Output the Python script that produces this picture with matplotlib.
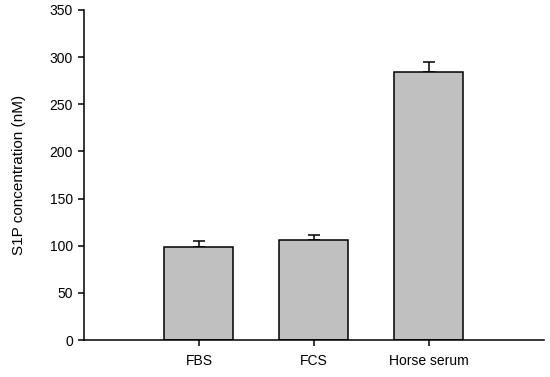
import numpy as np
import matplotlib.pyplot as plt

plt.rcParams['font.family'] = ['Liberation Sans', 'DejaVu Sans']

groups = ['FBS', 'FCS', 'Horse serum']
s1p_nm = [99, 106, 284]
s1p_err = [6, 5, 11]


def draw_bars(ax, labels, values, errors):
    x = np.arange(len(labels))
    ax.bar(x, values, width=0.6, color='#c0c0c0', edgecolor='black', linewidth=1.1, zorder=2)
    # only the upper half of the error bar is shown
    ax.errorbar(x, values, yerr=[np.zeros(len(errors)), errors], fmt='none',
                ecolor='black', elinewidth=1.1, capsize=4.5, capthick=1.1, zorder=1)
    ax.set_xticks(x)
    ax.set_xticklabels(labels)


fig = plt.figure(figsize=(5.5, 3.77), dpi=100)
ax = fig.add_axes([0.1527, 0.098, 0.836, 0.8755])

draw_bars(ax, groups, s1p_nm, s1p_err)

ax.set_xlim(-1, 3)
ax.set_ylim(0, 350)
ax.set_yticks(np.arange(0, 351, 50))
ax.set_ylabel('S1P concentration (nM)', fontsize=11, labelpad=17)

for side in ['top', 'right']:
    ax.spines[side].set_visible(False)
for side in ['left', 'bottom']:
    ax.spines[side].set_linewidth(1.1)
ax.tick_params(axis='both', direction='out', length=4, width=1.1, labelsize=10, pad=4)
ax.tick_params(axis='x', pad=6)

plt.savefig('out.png', dpi=100)
